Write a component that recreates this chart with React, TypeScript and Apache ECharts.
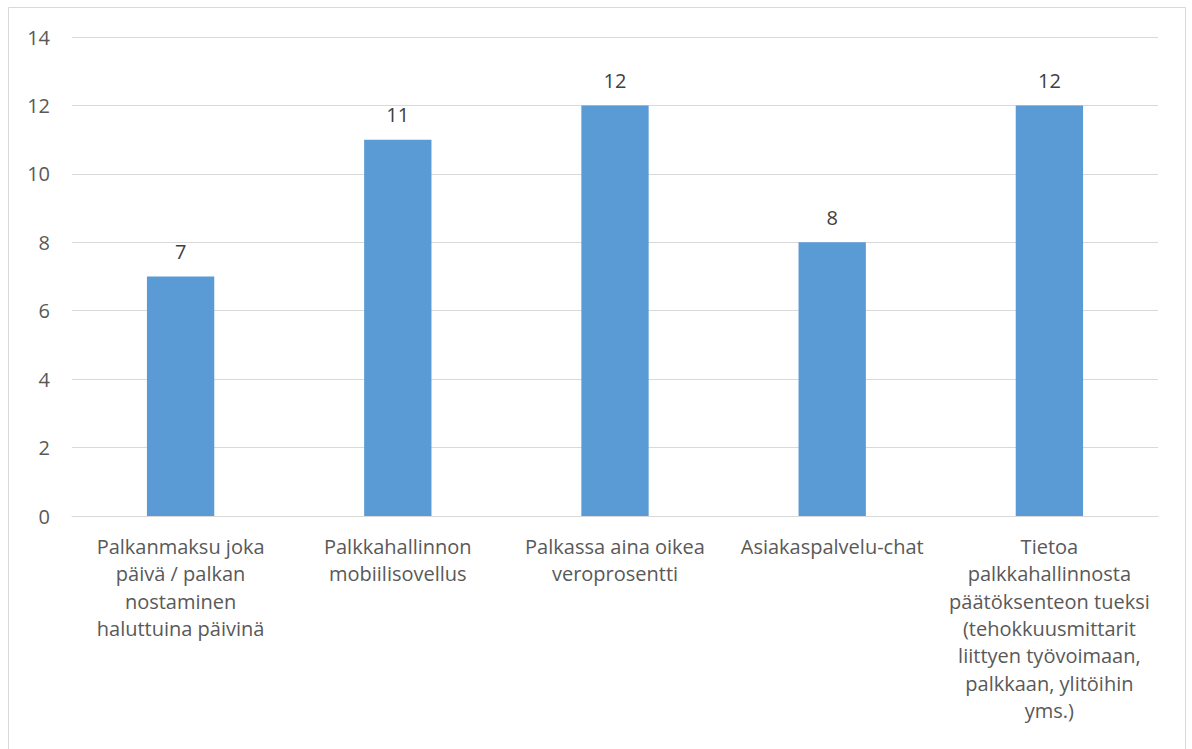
import React, { useEffect, useRef } from "react";
import * as echarts from "echarts";

const categories = [
  "Palkanmaksu joka\npäivä / palkan\nnostaminen\nhaluttuina päivinä",
  "Palkkahallinnon\nmobiilisovellus",
  "Palkassa aina oikea\nveroprosentti",
  "Asiakaspalvelu-chat",
  "Tietoa\npalkkahallinnosta\npäätöksenteon tueksi\n(tehokkuusmittarit\nliittyen työvoimaan,\npalkkaan, ylitöihin\nyms.)",
];
const values = [7, 11, 12, 8, 12];

export default function App() {
  const ref = useRef<HTMLDivElement>(null);
  useEffect(() => {
    const chart = echarts.init(ref.current!, undefined, { renderer: "svg" });
    const font = "'Open Sans', 'Noto Sans', sans-serif";
    chart.setOption({
      animation: false,
      textStyle: { fontFamily: font },
      graphic: [
        {
          type: "rect",
          shape: { x: 8.5, y: 7.5, width: 1177, height: 800 },
          style: { fill: "none", stroke: "#d9d9d9", lineWidth: 1 },
          silent: true,
        },
      ],
      grid: { left: 72, right: 34, top: 37, bottom: 233 },
      xAxis: {
        type: "category",
        data: categories,
        axisLine: { lineStyle: { color: "#d9d9d9" } },
        axisTick: { show: false },
        axisLabel: {
          interval: 0,
          color: "#595959",
          fontSize: 20,
          lineHeight: 27.3,
          margin: 17,
          fontFamily: font,
        },
      },
      yAxis: {
        type: "value",
        min: 0,
        max: 14,
        interval: 2,
        axisLine: { show: false },
        axisTick: { show: false },
        splitLine: { lineStyle: { color: "#d9d9d9" } },
        axisLabel: { color: "#595959", fontSize: 20, margin: 22, fontFamily: font },
      },
      series: [
        {
          type: "bar",
          data: values,
          barWidth: "31%",
          itemStyle: { color: "#5b9bd5" },
          label: {
            show: true,
            position: "top",
            distance: 15,
            color: "#404040",
            fontSize: 20,
            fontFamily: font,
          },
        },
      ],
    });
    return () => chart.dispose();
  }, []);
  return (
    <div
      ref={ref}
      style={{ position: "absolute", left: 0, top: 0, width: 1192, height: 749, background: "#fff" }}
    />
  );
}
